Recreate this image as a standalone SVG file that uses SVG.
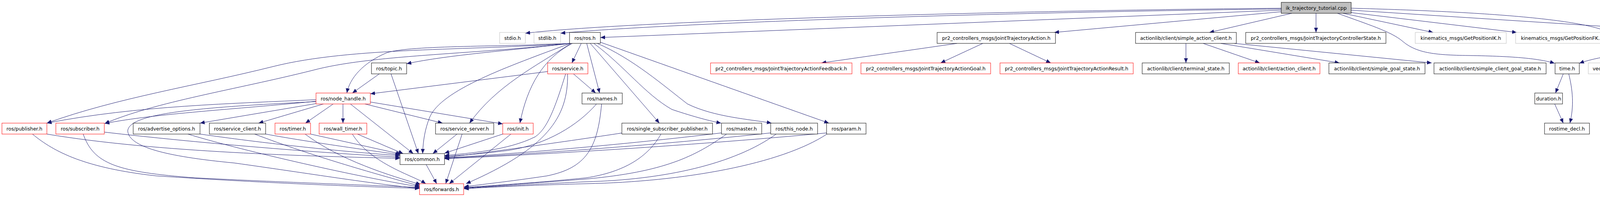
<svg xmlns="http://www.w3.org/2000/svg" width="5776" height="504" viewBox="0 0 5776 504">
<defs>
<marker id="a" markerWidth="12" markerHeight="10" refX="12" refY="5" orient="auto" markerUnits="userSpaceOnUse"><path d="M0,0 L12,5 L0,10 z" fill="#191970"/></marker>
</defs>
<style>
rect{fill:#fff;stroke:#000;stroke-width:1}
.g rect{stroke:#bfbfbf}
.r rect{stroke:#ff0000}
.root rect{fill:#bfbfbf}
text{font-family:"DejaVu Sans",sans-serif;font-size:12.5px;text-anchor:middle;fill:#000}
#edges path{fill:none;stroke:#191970;stroke-width:1;marker-end:url(#a)}
</style>
<rect x="0" y="0" width="5776" height="504" style="fill:#fff;stroke:none"/>
<g id="edges">
<!-- root -->
<path d="M3280,21 C2500,28 1600,55 1345,85"/>
<path d="M3280,23 C2500,32 1700,60 1435,85"/>
<path d="M3280,26 L1537,96"/>
<path d="M3280,30 L2699,83"/>
<path d="M3307,34 L3096,83"/>
<path d="M3369,34 L3369,83"/>
<path d="M3424,34 C3500,62 3560,80 3590,105 C3625,135 3670,141 3760,142 C3880,144 3940,150 3980,162"/>
<path d="M3438,34 L3669,83"/>
<path d="M3457,32 L3883,83"/>
<path d="M3459,21 C3800,30 4100,50 4137,95 C4145,120 4125,140 4116,161"/>
<path d="M3459,26 L4380,85"/>
<!-- ExecuteCartesianIKTrajectory -->
<path d="M4385,111 C4250,125 4100,140 4043,162"/>
<path d="M4430,111 C4300,125 4180,145 4128,162"/>
<path d="M4465,111 C4350,128 4250,145 4212,163"/>
<path d="M4490,111 C4400,128 4320,145 4287,163"/>
<path d="M4525,111 L4387,162"/>
<path d="M4550,111 L4495,161"/>
<path d="M4585,111 L4640,161"/>
<path d="M4630,111 L4820,161"/>
<path d="M4680,111 C4800,125 4930,140 5008,162"/>
<path d="M4740,111 C4900,125 5050,140 5140,162"/>
<path d="M4760,108 C4950,125 5150,140 5262,162"/>
<path d="M4760,106 C5050,125 5300,140 5430,162"/>
<path d="M4760,104 C5100,130 5400,150 5599,163"/>
<!-- JointTrajectoryAction -->
<path d="M2450,111 L2103,161"/>
<path d="M2516,111 L2408,161"/>
<path d="M2584,111 L2690,161"/>
<!-- simple_action_client -->
<path d="M3036,111 L3036,161"/>
<path d="M3080,111 L3225,161"/>
<path d="M3125,111 L3429,161"/>
<path d="M3160,111 L3665,161"/>
<!-- time -->
<path d="M4002,189 L3982,238"/>
<path d="M4016,189 C4026,230 4030,270 4019,315"/>
<path d="M3980,266 L4002,315"/>
<!-- ros/ros.h -->
<path d="M1488,111 L1464,161"/>
<path d="M1502,111 L1535,238"/>
<path d="M1511,111 L1688,315"/>
<path d="M1520,111 C1600,170 1650,240 1720,280 C1780,300 1820,310 1846,315"/>
<path d="M1529,111 C1620,150 1700,220 1760,266 C1830,300 1920,305 1975,315"/>
<path d="M1537,108 L2122,315"/>
<path d="M1460,111 C1300,130 1150,140 1041,163"/>
<path d="M1460,111 C1300,120 1050,115 990,135 C930,160 895,200 888,238"/>
<path d="M1460,111 C1200,130 900,120 700,170 C500,220 300,250 120,315"/>
<path d="M1460,111 C1200,140 950,140 800,180 C600,230 400,260 268,316"/>
<path d="M1460,111 C1300,170 1130,230 1100,300 C1088,330 1083,360 1082,393"/>
<path d="M1462,111 C1370,170 1270,220 1202,315"/>
<path d="M1465,111 C1390,150 1350,220 1331,315"/>
<!-- ros/service.h -->
<path d="M1402,183 L948,240"/>
<path d="M1468,189 L1525,238"/>
<path d="M1448,189 C1420,280 1400,330 1370,350 C1300,385 1200,392 1138,398"/>
<path d="M1453,189 C1455,300 1400,380 1193,470"/>
<!-- ros/names.h -->
<path d="M1527,266 C1480,320 1400,370 1300,385 C1220,395 1170,398 1138,400"/>
<path d="M1540,266 C1530,380 1500,430 1400,450 C1300,465 1230,472 1188,478"/>
<!-- row 4 right -->
<path d="M1594,340 C1450,362 1250,390 1138,403"/>
<path d="M1692,343 C1660,400 1600,440 1500,455 C1350,470 1230,476 1188,480"/>
<path d="M1847,340 C1600,370 1300,395 1138,404"/>
<path d="M1860,343 C1780,400 1700,440 1500,458 C1350,470 1230,478 1188,481"/>
<path d="M1973,340 C1700,370 1350,395 1138,405"/>
<path d="M1987,343 C1880,420 1700,460 1500,465 C1350,472 1230,479 1188,482"/>
<path d="M2117,340 C1800,370 1400,395 1138,406"/>
<path d="M2117,343 C2000,420 1750,465 1500,470 C1350,474 1230,480 1188,483"/>
<path d="M1290,342 L1138,392"/>
<path d="M1308,343 L1150,470"/>
<path d="M1170,343 L1108,393"/>
<path d="M1183,343 L1141,470"/>
<!-- ros/topic.h -->
<path d="M971,189 L902,238"/>
<path d="M1001,189 L1071,393"/>
<!-- node_handle -->
<path d="M809,255 C600,265 350,270 120,315"/>
<path d="M809,259 C600,280 400,290 268,316"/>
<path d="M809,265 L512,315"/>
<path d="M828,266 L662,315"/>
<path d="M853,266 L782,315"/>
<path d="M878,266 L878,315"/>
<path d="M934,266 L1133,315"/>
<path d="M948,261 L1287,317"/>
<path d="M897,266 L1058,393"/>
<path d="M809,260 C500,275 330,290 327,335 C330,375 420,400 600,417 C800,445 950,470 1074,482"/>
<!-- row 4 left -->
<path d="M120,343 C400,390 800,400 1024,405"/>
<path d="M83,343 C140,390 220,430 400,450 C700,470 950,478 1074,482"/>
<path d="M267,338 C500,365 800,390 1024,402"/>
<path d="M213,343 C240,420 300,440 500,455 C800,470 1000,475 1074,480"/>
<path d="M512,343 C700,370 900,390 1024,398"/>
<path d="M481,343 C600,380 900,450 1074,478"/>
<path d="M680,343 C800,365 950,385 1024,396"/>
<path d="M652,343 C800,400 980,450 1075,476"/>
<path d="M795,343 L1026,394"/>
<path d="M781,343 C870,410 1000,450 1077,472"/>
<path d="M915,343 L1032,393"/>
<path d="M902,343 C950,420 1060,450 1090,470"/>
<path d="M1091,421 L1118,470"/>
</g>
<g id="n_root" class="root"><rect x="3280" y="6" width="179" height="28"/><text x="3369.5" y="24.5">ik_trajectory_tutorial.cpp</text></g>
<g id="n_stdio" class="g"><rect x="1279" y="83" width="66" height="28"/><text x="1312" y="101.5">stdio.h</text></g>
<g id="n_stdlib" class="g"><rect x="1367" y="83" width="68" height="28"/><text x="1401" y="101.5">stdlib.h</text></g>
<g id="n_ros"><rect x="1458" y="83" width="79" height="28"/><text x="1497.5" y="101.5">ros/ros.h</text></g>
<g id="n_jta"><rect x="2399" y="83" width="303" height="28"/><text x="2550.5" y="101.5">pr2_controllers_msgs/JointTrajectoryAction.h</text></g>
<g id="n_sac"><rect x="2907" y="83" width="258" height="28"/><text x="3036" y="101.5">actionlib/client/simple_action_client.h</text></g>
<g id="n_jtcs"><rect x="3189" y="83" width="359" height="28"/><text x="3368.5" y="101.5">pr2_controllers_msgs/JointTrajectoryControllerState.h</text></g>
<g id="n_ik" class="g"><rect x="3623" y="83" width="233" height="28"/><text x="3739.5" y="101.5">kinematics_msgs/GetPositionIK.h</text></g>
<g id="n_fk" class="g"><rect x="3880" y="83" width="237" height="28"/><text x="3998.5" y="101.5">kinematics_msgs/GetPositionFK.h</text></g>
<g id="n_ec"><rect x="4380" y="83" width="380" height="28"/><text x="4570" y="101.5">pr2_laban_gazebo_demo/ExecuteCartesianIKTrajectory.h</text></g>
<g id="n_topic"><rect x="951" y="161" width="90" height="28"/><text x="996" y="179.5">ros/topic.h</text></g>
<g id="n_service" class="r"><rect x="1402" y="161" width="103" height="28"/><text x="1453.5" y="179.5">ros/service.h</text></g>
<g id="n_fb" class="r"><rect x="1819" y="161" width="362" height="28"/><text x="2000" y="179.5">pr2_controllers_msgs/JointTrajectoryActionFeedback.h</text></g>
<g id="n_goal" class="r"><rect x="2204" y="161" width="332" height="28"/><text x="2370" y="179.5">pr2_controllers_msgs/JointTrajectoryActionGoal.h</text></g>
<g id="n_result" class="r"><rect x="2560" y="161" width="341" height="28"/><text x="2730.5" y="179.5">pr2_controllers_msgs/JointTrajectoryActionResult.h</text></g>
<g id="n_terminal"><rect x="2924" y="161" width="223" height="28"/><text x="3035.5" y="179.5">actionlib/client/terminal_state.h</text></g>
<g id="n_action_client" class="r"><rect x="3170" y="161" width="209" height="28"/><text x="3274.5" y="179.5">actionlib/client/action_client.h</text></g>
<g id="n_sgs"><rect x="3402" y="161" width="246" height="28"/><text x="3525" y="179.5">actionlib/client/simple_goal_state.h</text></g>
<g id="n_scgs"><rect x="3671" y="161" width="287" height="28"/><text x="3814.5" y="179.5">actionlib/client/simple_client_goal_state.h</text></g>
<g id="n_time"><rect x="3981" y="161" width="62" height="28"/><text x="4012" y="179.5">time.h</text></g>
<g id="n_vector" class="g"><rect x="4066" y="161" width="62" height="28"/><text x="4097" y="179.5">vector</text></g>
<g id="n_string" class="g"><rect x="4152" y="161" width="58" height="28"/><text x="4181" y="179.5">string</text></g>
<g id="n_map" class="g"><rect x="4234" y="161" width="51" height="28"/><text x="4259.5" y="179.5">map</text></g>
<g id="n_ostream" class="g"><rect x="4309" y="161" width="76" height="28"/><text x="4347" y="179.5">ostream</text></g>
<g id="n_serialization" class="r"><rect x="4407" y="161" width="135" height="28"/><text x="4474.5" y="179.5">ros/serialization.h</text></g>
<g id="n_builtin" class="r"><rect x="4565" y="161" width="203" height="28"/><text x="4666.5" y="179.5">ros/builtin_message_traits.h</text></g>
<g id="n_msgops"><rect x="4792" y="161" width="192" height="28"/><text x="4888" y="179.5">ros/message_operations.h</text></g>
<g id="n_macros"><rect x="5008" y="161" width="107" height="28"/><text x="5061.5" y="179.5">ros/macros.h</text></g>
<g id="n_assert" class="r"><rect x="5138" y="161" width="99" height="28"/><text x="5187.5" y="179.5">ros/assert.h</text></g>
<g id="n_svctraits"><rect x="5261" y="161" width="142" height="28"/><text x="5332" y="179.5">ros/service_traits.h</text></g>
<g id="n_header" class="g"><rect x="5427" y="161" width="146" height="28"/><text x="5500" y="179.5">std_msgs/Header.h</text></g>
<g id="n_pose" class="g"><rect x="5597" y="161" width="174" height="28"/><text x="5684" y="179.5">geometry_msgs/Pose.h</text></g>
<g id="n_node_handle" class="r"><rect x="809" y="238" width="139" height="28"/><text x="878.5" y="256.5">ros/node_handle.h</text></g>
<g id="n_names"><rect x="1490" y="238" width="103" height="28"/><text x="1541.5" y="256.5">ros/names.h</text></g>
<g id="n_duration"><rect x="3929" y="238" width="71" height="28"/><text x="3964.5" y="256.5">duration.h</text></g>
<g id="n_publisher" class="r"><rect x="5" y="315" width="115" height="28"/><text x="62.5" y="333.5">ros/publisher.h</text></g>
<g id="n_subscriber" class="r"><rect x="143" y="315" width="124" height="28"/><text x="205" y="333.5">ros/subscriber.h</text></g>
<g id="n_advertise"><rect x="341" y="315" width="171" height="28"/><text x="426.5" y="333.5">ros/advertise_options.h</text></g>
<g id="n_service_client"><rect x="536" y="315" width="144" height="28"/><text x="608" y="333.5">ros/service_client.h</text></g>
<g id="n_timer" class="r"><rect x="704" y="315" width="91" height="28"/><text x="749.5" y="333.5">ros/timer.h</text></g>
<g id="n_wall_timer" class="r"><rect x="817" y="315" width="122" height="28"/><text x="878" y="333.5">ros/wall_timer.h</text></g>
<g id="n_service_server"><rect x="1115" y="315" width="149" height="28"/><text x="1189.5" y="333.5">ros/service_server.h</text></g>
<g id="n_init" class="r"><rect x="1287" y="315" width="78" height="28"/><text x="1326" y="333.5">ros/init.h</text></g>
<g id="n_ssp"><rect x="1592" y="315" width="232" height="28"/><text x="1708" y="333.5">ros/single_subscriber_publisher.h</text></g>
<g id="n_master"><rect x="1847" y="315" width="103" height="28"/><text x="1898.5" y="333.5">ros/master.h</text></g>
<g id="n_this_node"><rect x="1973" y="315" width="120" height="28"/><text x="2033" y="333.5">ros/this_node.h</text></g>
<g id="n_param"><rect x="2116" y="315" width="101" height="28"/><text x="2166.5" y="333.5">ros/param.h</text></g>
<g id="n_rostime_decl"><rect x="3954" y="315" width="115" height="28"/><text x="4011.5" y="333.5">rostime_decl.h</text></g>
<g id="n_common"><rect x="1024" y="393" width="114" height="28"/><text x="1081" y="411.5">ros/common.h</text></g>
<g id="n_forwards" class="r"><rect x="1074" y="470" width="113" height="28"/><text x="1130.5" y="488.5">ros/forwards.h</text></g>
</svg>
